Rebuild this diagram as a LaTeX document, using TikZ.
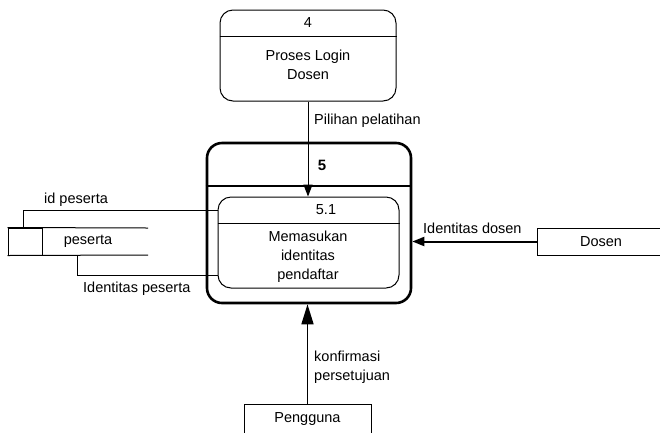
\documentclass[tikz,border=0pt]{standalone}
\usepackage{fontspec}
\setmainfont{Liberation Sans}
\usetikzlibrary{arrows.meta,calc}
\begin{document}
\begin{tikzpicture}[x=1pt,y=-1pt,
  txt/.style={font=\fontsize{14.5}{19}\selectfont, inner sep=0pt},
  procbox/.style={draw, line width=1pt, rounded corners=13pt, inner sep=0pt},
  outerbox/.style={draw, line width=2.6pt, rounded corners=15pt, inner sep=0pt},
  entbox/.style={draw, line width=1pt, inner sep=0pt, font=\fontsize{14.5}{19}\selectfont},
  thin/.style={line width=1pt},
  flowtip/.style={-{Triangle[length=12pt,width=9pt]}},
]
\useasboundingbox (0,0) rectangle (660,432);

% process 4
\node[procbox, minimum width=176pt, minimum height=91pt] (p4) at (308,55.5) {};
\draw[thin] (p4.west |- 0,36) -- (p4.east |- 0,36);
\node[txt] (p4num) at (308,23) {4};
\node[txt, align=center] (p4txt) at (308,65) {Proses Login\\Dosen};

% process 5 with subprocess 5.1
\node[outerbox, minimum width=204pt, minimum height=160pt] (outer) at (309,223) {};
\draw[line width=2.6pt] (outer.west |- 0,186) -- (outer.east |- 0,186);
\node[txt, font=\fontsize{15}{19}\selectfont\bfseries] (p5num) at (322,165) {5};
\node[procbox, minimum width=181pt, minimum height=91pt] (inner) at (308.5,242.5) {};
\draw[thin] (inner.west |- 0,223) -- (inner.east |- 0,223);
\node[txt] (p51num) at (326,210) {5.1};
\node[txt, align=center] (p51txt) at (308,257) {Memasukan\\identitas\\pendaftar};

% data store
\node[draw, thin, minimum width=34pt, minimum height=27pt, inner sep=0pt] (storecell) at (25,241.5) {};
\coordinate (storeend1) at (148,228);
\coordinate (storeend2) at (148,255);
\draw[thin] (storecell.north west) -- (storeend1);
\draw[thin] (storecell.south west) -- (storeend2);
\node[txt] (storetxt) at (88,241) {peserta};

% external entities
\node[entbox, minimum width=133pt, minimum height=27pt] (dosen) at (603.5,241.5) {\hspace*{-5pt}Dosen};
\node[entbox, minimum width=127pt, minimum height=30pt] (peng) at (307.5,419) {Pengguna};

% flows
\draw[thin, flowtip] (p4.south) -- (p4.south |- inner.north);
\node[txt, anchor=west] (lbl1) at (314,121) {Pilihan pelatihan};

\draw[thin] ($(storecell.north west)+(16,0)$) |- ($(inner.west)+(0,-32.5)$);
\node[txt, anchor=west] (lbl2) at (44,200) {id peserta};

\draw[thin] ($(storecell.south east)+(35,0)$) |- ($(inner.west)+(0,32.5)$);
\node[txt, anchor=west] (lbl3) at (83,289) {Identitas peserta};

\draw[line width=2pt, -{Triangle[length=12pt,width=9pt]}] (dosen.west) -- (dosen.west -| outer.east);
\node[txt, anchor=west] (lbl4) at (423,228) {Identitas dosen};

\draw[line width=1.6pt, -{Triangle[length=20pt,width=12pt]}] (peng.north) -- (peng.north |- outer.south);
\node[txt, anchor=west, align=left] (lbl5) at (314,367.5) {konfirmasi\\persetujuan};
\end{tikzpicture}
\end{document}
